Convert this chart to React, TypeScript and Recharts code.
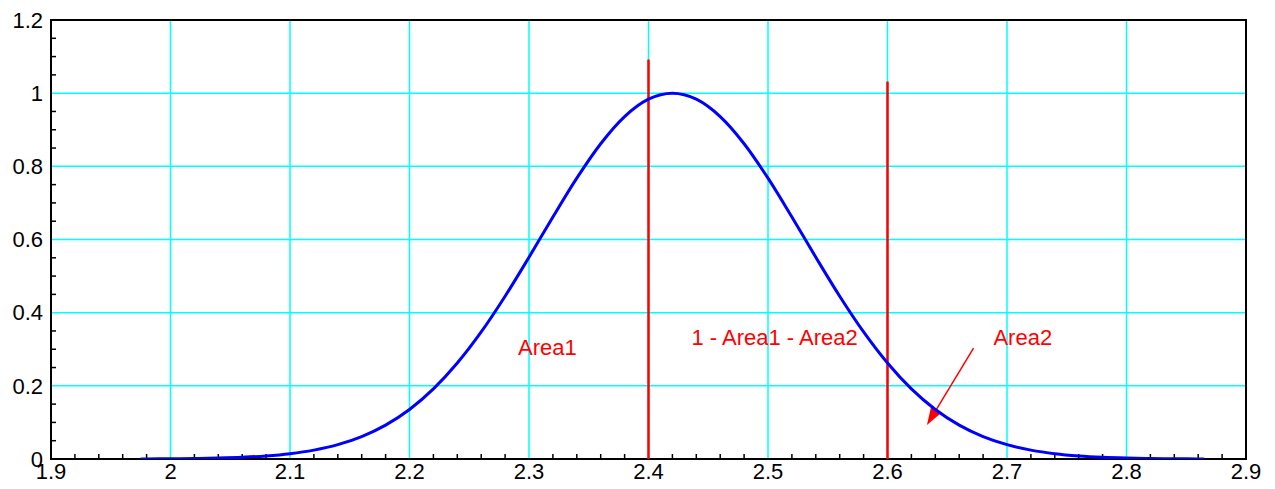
import {
  ComposedChart,
  Line,
  XAxis,
  YAxis,
  CartesianGrid,
  ReferenceLine,
  ReferenceArea,
  ReferenceDot,
} from "recharts";

const FONT = "Liberation Sans, Arial, Helvetica, sans-serif";

// bell curve
const curveX = [
  1.975, 1.98, 2.0, 2.02, 2.04, 2.06, 2.08, 2.1, 2.12, 2.14, 2.16, 2.18, 2.2, 2.22, 2.24, 2.26, 2.28, 2.3,
  2.32, 2.34, 2.36, 2.38, 2.4, 2.42, 2.44, 2.46, 2.48, 2.5, 2.52, 2.54, 2.56, 2.58, 2.6, 2.62, 2.64,
  2.66, 2.68, 2.7, 2.72, 2.74, 2.76, 2.78, 2.8, 2.82, 2.84, 2.86, 2.865,
];
const curveY = [
  0.0002, 0.0003, 0.0007, 0.0013, 0.0026, 0.0047, 0.0084, 0.0145, 0.0243, 0.0392, 0.0612, 0.0926, 0.1353,
  0.1915, 0.2622, 0.3472, 0.4449, 0.5515, 0.6615, 0.7676, 0.8618, 0.936, 0.9836, 1.0, 0.9836, 0.936,
  0.8618, 0.7676, 0.6615, 0.5515, 0.4449, 0.3472, 0.2622, 0.1915, 0.1353, 0.0926, 0.0612, 0.0392,
  0.0243, 0.0145, 0.0084, 0.0047, 0.0026, 0.0013, 0.0007, 0.0003, 0.0002,
];

const xTicks = [1.9, 2, 2.1, 2.2, 2.3, 2.4, 2.5, 2.6, 2.7, 2.8, 2.9];
const yTicks = [0, 0.2, 0.4, 0.6, 0.8, 1, 1.2];

// minor ticks every 0.02 on x and 0.05 on y (skipping the major ones)
const xMinor = Array.from({ length: 50 }, (_, i) => +(1.9 + i * 0.02).toFixed(2)).filter(
  (_, i) => i % 5 !== 0
);
const yMinor = Array.from({ length: 24 }, (_, i) => +(i * 0.05).toFixed(2)).filter(
  (_, i) => i % 4 !== 0
);

// red markers: [x, top]
const cutLines = [
  [2.4, 1.092],
  [2.6, 1.032],
];

const arrowFrom = { x: 2.672, y: 0.303 };
const arrowTo = { x: 2.633, y: 0.093 };

const notes = [
  { text: "Area1", x: 2.3154, y: 0.306 },
  { text: "1 - Area1 - Area2", x: 2.5055, y: 0.3335 },
  { text: "Area2", x: 2.7132, y: 0.3335 },
];

const data = curveX.map((x, i) => ({ x, y: curveY[i] }));

function Arrow(p: any) {
  const { x1, y1, x2, y2 } = p;
  const ang = Math.atan2(y2 - y1, x2 - x1);
  const len = 18;
  const half = 6;
  const bx = x2 - len * Math.cos(ang);
  const by = y2 - len * Math.sin(ang);
  const px = -Math.sin(ang) * half;
  const py = Math.cos(ang) * half;
  return (
    <g>
      <line x1={x1} y1={y1} x2={bx} y2={by} stroke="#ff0000" strokeWidth={1.5} />
      <polygon
        points={`${x2},${y2} ${bx + px},${by + py} ${bx - px},${by - py}`}
        fill="#ff0000"
      />
    </g>
  );
}

export default function App() {
  return (
    <div style={{ position: "absolute", left: 0, top: 0, width: 1275, height: 489, background: "#fff" }}>
      <ComposedChart
        width={1275}
        height={489}
        data={data}
        margin={{ top: 20, right: 29, left: 0, bottom: 0 }}
      >
        <CartesianGrid stroke="#00ffff" strokeWidth={1.5} />
        <XAxis
          type="number"
          dataKey="x"
          domain={[1.9, 2.9]}
          ticks={xTicks}
          allowDataOverflow
          height={30}
          axisLine={false}
          tickLine={false}
          tickSize={0}
          tickMargin={4}
          tick={{ fill: "#000", fontSize: 22, fontFamily: FONT }}
        />
        <YAxis
          type="number"
          domain={[0, 1.2]}
          ticks={yTicks}
          allowDataOverflow
          width={51}
          axisLine={false}
          tickLine={false}
          tickSize={0}
          tickMargin={8}
          tick={{ fill: "#000", fontSize: 22, fontFamily: FONT }}
        />
        {xMinor.map((v) => (
          <ReferenceLine
            key={"xm" + v}
            x={v}
            shape={(p: any) => {
              const b = Math.max(p.y1, p.y2);
              return <line x1={p.x1} x2={p.x1} y1={b} y2={b - 5} stroke="#000" strokeWidth={1.5} />;
            }}
          />
        ))}
        {yMinor.map((v) => (
          <ReferenceLine
            key={"ym" + v}
            y={v}
            shape={(p: any) => {
              const l = Math.min(p.x1, p.x2);
              return <line x1={l} x2={l + 5} y1={p.y1} y2={p.y1} stroke="#000" strokeWidth={1.5} />;
            }}
          />
        ))}
        <ReferenceArea
          x1={1.9}
          x2={2.9}
          y1={0}
          y2={1.2}
          fill="none"
          fillOpacity={0}
          stroke="#000"
          strokeWidth={2}
        />
        {cutLines.map(([x, top]) => (
          <ReferenceLine
            key={"c" + x}
            segment={[
              { x, y: 0 },
              { x, y: top },
            ]}
            stroke="#ff0000"
            strokeWidth={2.5}
          />
        ))}
        <ReferenceLine segment={[arrowFrom, arrowTo]} shape={Arrow} />
        {notes.map((n) => (
          <ReferenceDot
            key={n.text}
            x={n.x}
            y={n.y}
            r={0}
            fill="none"
            stroke="none"
            label={{ value: n.text, position: "center", fill: "#ff0000", fontSize: 22, fontFamily: FONT }}
          />
        ))}
        <Line
          type="monotone"
          dataKey="y"
          stroke="#0000ff"
          strokeWidth={3}
          dot={false}
          isAnimationActive={false}
        />
      </ComposedChart>
    </div>
  );
}
